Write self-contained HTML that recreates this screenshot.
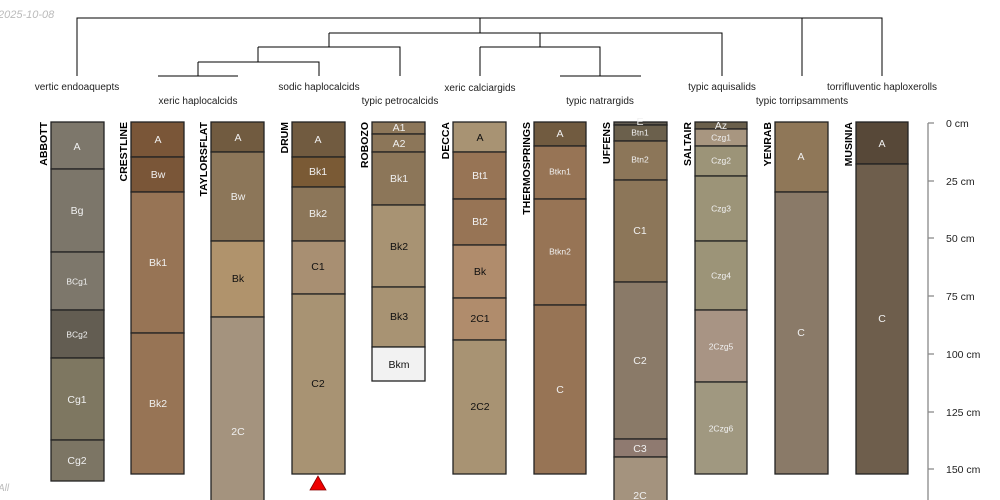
<!DOCTYPE html>
<html><head><meta charset="utf-8"><style>
body{margin:0;background:#fff}
svg{display:block;font-family:"Liberation Sans",sans-serif}
.h{stroke:#222;stroke-width:1.3}
.w{fill:#f0f0f0;font-size:10.5px;text-anchor:middle;dominant-baseline:middle}
.b{fill:#111;font-size:10.5px;text-anchor:middle;dominant-baseline:middle}
.s{font-size:8.5px}
.n{font-size:10.5px;font-weight:bold;fill:#000}
.t{font-size:10px;fill:#222;text-anchor:middle}
.d{stroke:#000;stroke-width:1;fill:none}
</style></head><body>
<svg width="1000" height="500" viewBox="0 0 1000 500">
<text x="-2" y="18" font-size="11" font-style="italic" fill="#bbb">2025-10-08</text>
<text x="-2" y="491" font-size="10" font-style="italic" fill="#bbb">All</text>
<path class="d" d="M77,76V18H882V76 M802,18V76 M480,18V33 M329,33H722V76 M329,33V47 M258,47H400V76 M258,47V62 M198,62H319V76 M198,62V76 M158,76H238 M540,33V47 M480,47H600V76 M480,47V76 M560,76H641"/>
<g class="t">
<text x="77" y="90">vertic endoaquepts</text>
<text x="319" y="90">sodic haplocalcids</text>
<text x="480" y="91">xeric calciargids</text>
<text x="722" y="90">typic aquisalids</text>
<text x="882" y="90">torrifluventic haploxerolls</text>
<text x="198" y="104">xeric haplocalcids</text>
<text x="400" y="104">typic petrocalcids</text>
<text x="600" y="104">typic natrargids</text>
<text x="802" y="104">typic torripsamments</text>
</g>
<g class="h">
<rect x="51" y="122" width="53" height="47" fill="#7d776b"/>
<rect x="51" y="169" width="53" height="83" fill="#7c766a"/>
<rect x="51" y="252" width="53" height="58" fill="#7d776b"/>
<rect x="51" y="310" width="53" height="48" fill="#635d52"/>
<rect x="51" y="358" width="53" height="82" fill="#7e7761"/>
<rect x="51" y="440" width="53" height="41" fill="#7c7564"/>
<rect x="131" y="122" width="53" height="35" fill="#7a5638"/>
<rect x="131" y="157" width="53" height="35" fill="#7a5638"/>
<rect x="131" y="192" width="53" height="141" fill="#977455"/>
<rect x="131" y="333" width="53" height="141" fill="#977455"/>
<rect x="211" y="122" width="53" height="30" fill="#715b40"/>
<rect x="211" y="152" width="53" height="89" fill="#8c7659"/>
<rect x="211" y="241" width="53" height="76" fill="#b0936c"/>
<rect x="211" y="317" width="53" height="190" fill="#a4937e"/>
<rect x="292" y="122" width="53" height="35" fill="#715b40"/>
<rect x="292" y="157" width="53" height="30" fill="#7a5a35"/>
<rect x="292" y="187" width="53" height="54" fill="#8c7659"/>
<rect x="292" y="241" width="53" height="53" fill="#a88f72"/>
<rect x="292" y="294" width="53" height="180" fill="#a89373"/>
<rect x="372" y="122" width="53" height="12" fill="#8c7659"/>
<rect x="372" y="134" width="53" height="18" fill="#8c7659"/>
<rect x="372" y="152" width="53" height="53" fill="#8c7659"/>
<rect x="372" y="205" width="53" height="82" fill="#a89373"/>
<rect x="372" y="287" width="53" height="60" fill="#a89373"/>
<rect x="372" y="347" width="53" height="34" fill="#f2f2f2"/>
<rect x="453" y="122" width="53" height="30" fill="#a89373"/>
<rect x="453" y="152" width="53" height="47" fill="#977455"/>
<rect x="453" y="199" width="53" height="46" fill="#977455"/>
<rect x="453" y="245" width="53" height="53" fill="#b08c6c"/>
<rect x="453" y="298" width="53" height="42" fill="#b08c6c"/>
<rect x="453" y="340" width="53" height="134" fill="#a89373"/>
<rect x="534" y="122" width="52" height="24" fill="#715b40"/>
<rect x="534" y="146" width="52" height="53" fill="#977455"/>
<rect x="534" y="199" width="52" height="106" fill="#977455"/>
<rect x="534" y="305" width="52" height="169" fill="#977455"/>
<rect x="614" y="122" width="53" height="3" fill="#635d52"/>
<rect x="614" y="125" width="53" height="16" fill="#6b604c"/>
<rect x="614" y="141" width="53" height="39" fill="#8c7659"/>
<rect x="614" y="180" width="53" height="102" fill="#8c7659"/>
<rect x="614" y="282" width="53" height="157" fill="#8a7a68"/>
<rect x="614" y="439" width="53" height="18" fill="#8f7a70"/>
<rect x="614" y="457" width="53" height="50" fill="#a4937e"/>
<rect x="695" y="122" width="52" height="7" fill="#6b604c"/>
<rect x="695" y="129" width="52" height="17" fill="#a89680"/>
<rect x="695" y="146" width="52" height="30" fill="#9c9478"/>
<rect x="695" y="176" width="52" height="65" fill="#9c9478"/>
<rect x="695" y="241" width="52" height="69" fill="#9c9478"/>
<rect x="695" y="310" width="52" height="72" fill="#a89484"/>
<rect x="695" y="382" width="52" height="92" fill="#a09880"/>
<rect x="775" y="122" width="53" height="70" fill="#8f7758"/>
<rect x="775" y="192" width="53" height="282" fill="#8a7a68"/>
<rect x="856" y="122" width="52" height="42" fill="#574838"/>
<rect x="856" y="164" width="52" height="310" fill="#6e5e4c"/>
</g>
<polygon points="318,476 310,490 326,490" fill="#e00" stroke="#800" stroke-width="0.8"/>
<g>
<text class="w" x="77" y="147">A</text><text class="w" x="77" y="211">Bg</text>
<text class="w s" x="77" y="282">BCg1</text><text class="w s" x="77" y="335">BCg2</text>
<text class="w" x="77" y="400">Cg1</text><text class="w" x="77" y="461">Cg2</text>
<text class="w" x="158" y="140">A</text><text class="w" x="158" y="175">Bw</text>
<text class="w" x="158" y="263">Bk1</text><text class="w" x="158" y="404">Bk2</text>
<text class="w" x="238" y="138">A</text><text class="w" x="238" y="197">Bw</text>
<text class="b" x="238" y="279">Bk</text><text class="w" x="238" y="432">2C</text>
<text class="w" x="318" y="140">A</text><text class="w" x="318" y="172">Bk1</text>
<text class="w" x="318" y="214">Bk2</text><text class="b" x="318" y="267">C1</text>
<text class="b" x="318" y="384">C2</text>
<text class="w" x="399" y="128">A1</text><text class="w" x="399" y="144">A2</text>
<text class="w" x="399" y="179">Bk1</text><text class="b" x="399" y="247">Bk2</text>
<text class="b" x="399" y="317">Bk3</text><text class="b" x="399" y="365">Bkm</text>
<text class="b" x="480" y="138">A</text><text class="w" x="480" y="176">Bt1</text>
<text class="w" x="480" y="222">Bt2</text><text class="b" x="480" y="272">Bk</text>
<text class="b" x="480" y="319">2C1</text><text class="b" x="480" y="407">2C2</text>
<text class="w" x="560" y="134">A</text><text class="w s" x="560" y="172">Btkn1</text>
<text class="w s" x="560" y="252">Btkn2</text><text class="w" x="560" y="390">C</text>
<text class="w" x="640" y="122" font-size="10">E</text><text class="w s" x="640" y="133">Btn1</text>
<text class="w s" x="640" y="160">Btn2</text><text class="w" x="640" y="231">C1</text>
<text class="w" x="640" y="361">C2</text><text class="w" x="640" y="449">C3</text>
<text class="w" x="640" y="496">2C</text>
<text class="w" x="721" y="126" font-size="10">Az</text><text class="w s" x="721" y="138">Czg1</text>
<text class="w s" x="721" y="161">Czg2</text><text class="w s" x="721" y="209">Czg3</text>
<text class="w s" x="721" y="276">Czg4</text><text class="w s" x="721" y="347">2Czg5</text>
<text class="w s" x="721" y="429">2Czg6</text>
<text class="w" x="801" y="157">A</text><text class="w" x="801" y="333">C</text>
<text class="w" x="882" y="144">A</text><text class="w" x="882" y="319">C</text>
</g>
<g class="n">
<text transform="translate(47,122) rotate(-90)" text-anchor="end">ABBOTT</text>
<text transform="translate(127,122) rotate(-90)" text-anchor="end">CRESTLINE</text>
<text transform="translate(207,122) rotate(-90)" text-anchor="end">TAYLORSFLAT</text>
<text transform="translate(288,122) rotate(-90)" text-anchor="end">DRUM</text>
<text transform="translate(368,122) rotate(-90)" text-anchor="end">ROBOZO</text>
<text transform="translate(449,122) rotate(-90)" text-anchor="end">DECCA</text>
<text transform="translate(530,122) rotate(-90)" text-anchor="end">THERMOSPRINGS</text>
<text transform="translate(610,122) rotate(-90)" text-anchor="end">UFFENS</text>
<text transform="translate(691,122) rotate(-90)" text-anchor="end">SALTAIR</text>
<text transform="translate(771,122) rotate(-90)" text-anchor="end">YENRAB</text>
<text transform="translate(852,122) rotate(-90)" text-anchor="end">MUSINIA</text>
</g>
<path d="M928,123V500 M928,123h6 M928,181h6 M928,238h6 M928,296h6 M928,354h6 M928,412h6 M928,469h6" stroke="#888" stroke-width="1.3" fill="none"/>
<g font-size="10.5" fill="#222">
<text x="946" y="127">0 cm</text><text x="946" y="185">25 cm</text>
<text x="946" y="242">50 cm</text><text x="946" y="300">75 cm</text>
<text x="946" y="358">100 cm</text><text x="946" y="416">125 cm</text>
<text x="946" y="473">150 cm</text>
</g>
</svg>
</body></html>
